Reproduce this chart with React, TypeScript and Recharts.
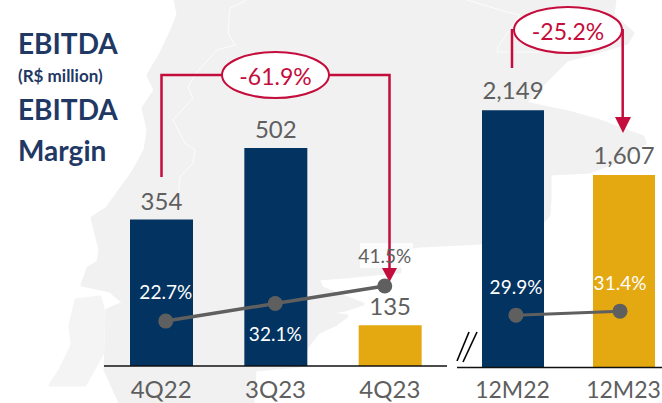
import React from 'react';
import { BarChart, Bar, XAxis, YAxis, LineChart, Line, Cell, LabelList } from 'recharts';

const FONT = 'Lato, "Open Sans", sans-serif';
const NAVY = '#023361';
const GOLD = '#E4A811';
const GREY = '#5F5F5F';
const RED = '#C40D3C';
const TITLE = '#1F3864';

// quarterly group
const quarters = ['4Q22', '3Q23', '4Q23'];
const quarterEbitda = [354, 502, 135];
const quarterMargin = [22.7, 32.1, 41.5];
const quarterColors = [NAVY, NAVY, GOLD];
const quarterLabelFill = ['#FFFFFF', '#FFFFFF', GREY];
const quarterLabelDy = [-30, 30, -30];

// twelve month group
const years = ['12M22', '12M23'];
const yearEbitda = [2149, 1607];
const yearMargin = [29.9, 31.4];
const yearColors = [NAVY, GOLD];
const yearLabelFill = ['#FFFFFF', '#FFFFFF'];
const yearLabelDy = [-29, -29];

const quarterBars = quarters.map((name, i) => ({ name, value: quarterEbitda[i] }));
const quarterLine = quarters.map((name, i) => ({ name, margin: quarterMargin[i] }));
const yearBars = years.map((name, i) => ({ name, value: yearEbitda[i] }));
const yearLine = years.map((name, i) => ({ name, margin: yearMargin[i] }));

// faded map behind the chart
const MAP_MAIN =
  '175,0 615,0 613,15 633,33 627,43 587,55 567,60 547,80 525,103 568,112 597,120 643,137 645,143 620,160 590,172 550,174 550,200 549,215 543,222 481,243 420,246 400,248 400,272 375,274 345,277 318,279 322,288 345,297 363,304 345,310 325,313 347,316 335,325 318,333 307,347 300,366 255,370 253,403 120,403 105,370 107,310 124,303 110,291 82,285 88,268 98,262 100,250 92,218 107,208 133,172 145,150 148,130 143,108 155,90 148,75 160,55 172,30 178,14';
const MAP_ISLAND = '76,300 100,297 104,312 103,340 104,352 100,358 85,385 50,385 60,370 72,345 70,325';
const MAP_BORDER_A =
  '247,0 230,8 228,33 235,45 217,50 197,72 188,87 193,98 173,120 185,143 195,150 193,163 180,177 178,200';
const MAP_BORDER_B = '467,0 507,12 520,15 498,47 497,52 540,52';

const fmt = (v: number) => v.toLocaleString('en-US');

const marginLabel = (fills: string[], dys: number[]) => (props: any) => {
  const { x, y, index, value } = props;
  return (
    <text
      x={x}
      y={y + dys[index]}
      textAnchor="middle"
      dominantBaseline="central"
      fontSize={19}
      fontFamily={FONT}
      fill={fills[index]}
    >
      {value}%
    </text>
  );
};

const layer = (left: number): React.CSSProperties => ({ position: 'absolute', left, top: 0 });

const axisTick = { fill: GREY, fontSize: 24, fontFamily: FONT };
const yearAxisTick = { fill: GREY, fontSize: 23, fontFamily: FONT };

export default function App() {
  return (
    <div style={{ position: 'absolute', left: 0, top: 0, width: 662, height: 403, overflow: 'hidden', background: '#fff', fontFamily: FONT }}>
      <svg width={662} height={403} style={layer(0)}>
        <polygon points={MAP_MAIN} fill="#F1F1F1" stroke="#F1F1F1" strokeWidth={3} strokeLinejoin="round" />
        <polygon points={MAP_ISLAND} fill="#F4F4F4" stroke="#F4F4F4" strokeWidth={3} strokeLinejoin="round" />
        <polyline points={MAP_BORDER_A} fill="none" stroke="#fff" strokeOpacity={0.8} strokeWidth={1} />
        <polyline points={MAP_BORDER_B} fill="none" stroke="#fff" strokeOpacity={0.8} strokeWidth={1} />
        <rect x={360} y={243} width={53} height={25} fill="#fff" fillOpacity={0.75} />
        <text x={18} y={43} dominantBaseline="central" fontSize={28} fontWeight={700} fill={TITLE}>EBITDA</text>
        <text x={18} y={75} dominantBaseline="central" fontSize={17} fontWeight={700} fill={TITLE}>(R$ million)</text>
        <text x={18} y={109} dominantBaseline="central" fontSize={28} fontWeight={700} fill={TITLE}>EBITDA</text>
        <text x={18} y={150} dominantBaseline="central" fontSize={28} fontWeight={700} fill={TITLE}>Margin</text>
      </svg>

      <div style={layer(104)}>
        <BarChart width={343} height={403} data={quarterBars} margin={{ top: 0, right: 0, bottom: 0, left: 0 }}>
          <XAxis
            dataKey="name"
            height={37}
            tickLine={false}
            axisLine={{ stroke: '#111', strokeWidth: 1.5 }}
            tick={axisTick}
            tickMargin={9}
            interval={0}
          />
          <YAxis hide domain={[50.7, 808.5]} allowDataOverflow />
          <Bar dataKey="value" barSize={63} isAnimationActive={false}>
            {quarterBars.map((d, i) => (
              <Cell key={d.name} fill={quarterColors[i]} />
            ))}
            <LabelList dataKey="value" position="top" offset={10} fill={GREY} fontSize={24} fontFamily={FONT} formatter={fmt} />
          </Bar>
        </BarChart>
      </div>

      <div style={layer(456.5)}>
        <BarChart width={222} height={403} data={yearBars} margin={{ top: 0, right: 0, bottom: 0, left: 0 }}>
          <XAxis
            dataKey="name"
            height={35.5}
            tickLine={false}
            axisLine={{ stroke: '#111', strokeWidth: 1.5 }}
            tick={yearAxisTick}
            tickMargin={8}
            interval={0}
          />
          <YAxis hide domain={[0, 3069]} allowDataOverflow />
          <Bar dataKey="value" barSize={62} isAnimationActive={false}>
            {yearBars.map((d, i) => (
              <Cell key={d.name} fill={yearColors[i]} />
            ))}
            <LabelList dataKey="value" position="top" offset={11} fill={GREY} fontSize={24} fontFamily={FONT} formatter={fmt} />
          </Bar>
        </BarChart>
      </div>

      <svg width={662} height={403} style={layer(0)}>
        <g fill="none" stroke={RED} strokeWidth={2.5}>
          <polyline points="161.5,177 161.5,75 389.5,75 389.5,268" />
          <polyline points="512,68 512,29" />
          <polyline points="622.7,29 622.7,118" />
        </g>
        <polygon points="382,268 397,268 389.5,282" fill={RED} />
        <polygon points="615,117 631,117 623,133" fill={RED} />
        <ellipse cx={275.5} cy={75} rx={53.5} ry={23} fill="#fff" stroke={RED} strokeWidth={2} />
        <ellipse cx={568} cy={30} rx={54} ry={23} fill="#fff" stroke={RED} strokeWidth={2} />
        <text x={275.5} y={76} textAnchor="middle" dominantBaseline="central" fontSize={23} fill={RED}>-61.9%</text>
        <text x={568} y={31} textAnchor="middle" dominantBaseline="central" fontSize={23} fill={RED}>-25.2%</text>
        <g stroke="#000" strokeWidth={1.6}>
          <line x1={457} y1={361} x2={469} y2={332} />
          <line x1={463} y1={362} x2={477} y2={332} />
        </g>
      </svg>

      <div style={layer(111.25)}>
        <LineChart width={328.5} height={403} data={quarterLine} margin={{ top: 0, right: 54.75, bottom: 0, left: 54.75 }}>
          <XAxis dataKey="name" hide />
          <YAxis hide domain={[-21.1, 194.4]} allowDataOverflow />
          <Line
            dataKey="margin"
            stroke={GREY}
            strokeWidth={3.5}
            dot={{ r: 7.5, fill: GREY, stroke: GREY, strokeWidth: 0 }}
            label={marginLabel(quarterLabelFill, quarterLabelDy)}
            isAnimationActive={false}
          />
        </LineChart>
      </div>

      <div style={layer(464)}>
        <LineChart width={208} height={403} data={yearLine} margin={{ top: 0, right: 52, bottom: 0, left: 52 }}>
          <XAxis dataKey="name" hide />
          <YAxis hide domain={[-3, 147.9]} allowDataOverflow />
          <Line
            dataKey="margin"
            stroke={GREY}
            strokeWidth={3}
            dot={{ r: 7.5, fill: GREY, stroke: GREY, strokeWidth: 0 }}
            label={marginLabel(yearLabelFill, yearLabelDy)}
            isAnimationActive={false}
          />
        </LineChart>
      </div>
    </div>
  );
}
